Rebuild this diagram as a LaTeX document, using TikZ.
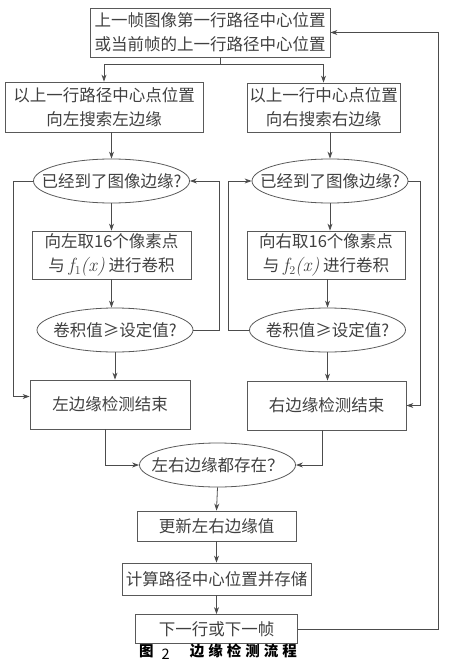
\documentclass[tikz,border=0pt]{standalone}
\usepackage{fontspec}
\setmainfont{Noto Sans CJK SC}
\newfontfamily\lmfont{Latin Modern Roman}
\usetikzlibrary{shapes.geometric,arrows.meta}
% text of an oval must not widen it
\newcommand{\ovaltext}[1]{\makebox[0pt]{#1}}
% f with index, set in Latin Modern
\newcommand{\fidx}[1]{{\lmfont\fontsize{19}{24}\selectfont\itshape f\kern0.5pt\raisebox{-3pt}{\upshape\fontsize{12}{12}\selectfont #1}(x\kern0.5pt)}}

\begin{document}
\begin{tikzpicture}[x=1pt,y=-1pt,
      >={Stealth[length=7pt,width=5pt]},
      linet/.style={draw=black!70, line width=0.8pt, ->},
      kasten/.style={rectangle, draw=black!65, line width=0.8pt,
        inner sep=0pt, align=center, text=black!75},
      frage/.style={ellipse, draw=black!65, line width=0.8pt,
        inner sep=0pt, minimum width=156pt, minimum height=44pt, text=black!75}
    ]
    \fontsize{16.5}{24}\selectfont
    \useasboundingbox (0,0) rectangle (450,671);
    \path (210,32.5) node(top) [kasten, minimum width=240pt, minimum height=49pt]
      {上一帧图像第一行路径中心位置\\或当前帧的上一行路径中心位置}
    (104,107) node(l1) [kasten, minimum width=198pt, minimum height=50pt]
      {以上一行路径中心点位置\\向左搜索左边缘}
    (323.5,107.5) node(r1) [kasten, minimum width=153pt, minimum height=49pt]
      {以上一行中心点位置\\向右搜索右边缘}
    (111.5,181) node(le1) [frage] {\ovaltext{已经到了图像边缘?}}
    (330,181) node(re1) [frage] {\ovaltext{已经到了图像边缘?}}
    (111.5,255) node(l2) [kasten, minimum width=159pt, minimum height=48pt]
      {向左取16个像素点\\与 \fidx{1} 进行卷积}
    (326,255) node(r2) [kasten, minimum width=158pt, minimum height=48pt]
      {向右取16个像素点\\与 \fidx{2} 进行卷积}
    (115,330) node(le2) [frage] {\ovaltext{卷积值≥设定值?}}
    (327.5,330) node(re2) [frage] {\ovaltext{卷积值≥设定值?}}
    (110,404.5) node(l3) [kasten, minimum width=160pt, minimum height=49pt]
      {左边缘检测结束}
    (326.5,405.5) node(r3) [kasten, minimum width=159pt, minimum height=49pt]
      {右边缘检测结束}
    (217.5,465) node(both) [frage] {\ovaltext{左右边缘都存在？}}
    (216.5,526) node(upd) [kasten, minimum width=159pt, minimum height=30pt]
      {更新左右边缘值}
    (216.5,579) node(calc) [kasten, minimum width=189pt, minimum height=32pt]
      {计算路径中心位置并存储}
    (216.5,629) node(next) [kasten, minimum width=162pt, minimum height=29pt]
      {下一行或下一帧}
    (218,652) node(cap) [font=\bfseries\fontsize{14.5}{16}\selectfont]
      {图\hspace{8pt}\raisebox{-3pt}{\normalfont 2}\hspace{20pt}边\hspace{4pt}缘\hspace{4pt}检\hspace{4pt}测\hspace{4pt}流\hspace{4pt}程};
    % downwards
    \draw[linet] ([xshift=10pt]top.south) -- ++(0,7) coordinate(split) -| (l1.north);
    \draw[linet] (split) -| (r1.north);
    \draw[linet] (le1.north |- l1.south) -- (le1.north);
    \draw[linet] (re1.north |- r1.south) -- (re1.north);
    \draw[linet] (le1.south) -- (le1.south |- l2.north);
    \draw[linet] (re1.south) -- (re1.south |- r2.north);
    \draw[linet] (l2.south) -- (l2.south |- le2.north);
    \draw[linet] (re2.north |- r2.south) -- (re2.north);
    \draw[linet] (le2.south) -- (le2.south |- l3.north);
    \draw[linet] (re2.south) -- (re2.south |- r3.north);
    % loops back
    \draw[linet] (le1.west) -- ++(-20,0) |- ([yshift=8pt]l3.west);
    \draw[linet] (re1.east) -- ++(12,0) |- (r3.east);
    \draw[linet] (le2.east) -- ++(26,0) |- (le1.east);
    \draw[linet] (re2.west) -- ++(-21,0) |- (re1.west);
    % merge
    \draw[linet] ([xshift=-5pt]l3.south) |- (both.west);
    \draw[linet] ([xshift=-4pt]r3.south) |- (both.east);
    \draw[linet] (both.south) -- (upd.north);
    \draw[linet] (upd.south) -- (calc.north);
    \draw[linet] (calc.south) -- (next.north);
    \draw[linet] (next.east) -- ++(140,0) |- (top.east);
  \end{tikzpicture}
\end{document}
